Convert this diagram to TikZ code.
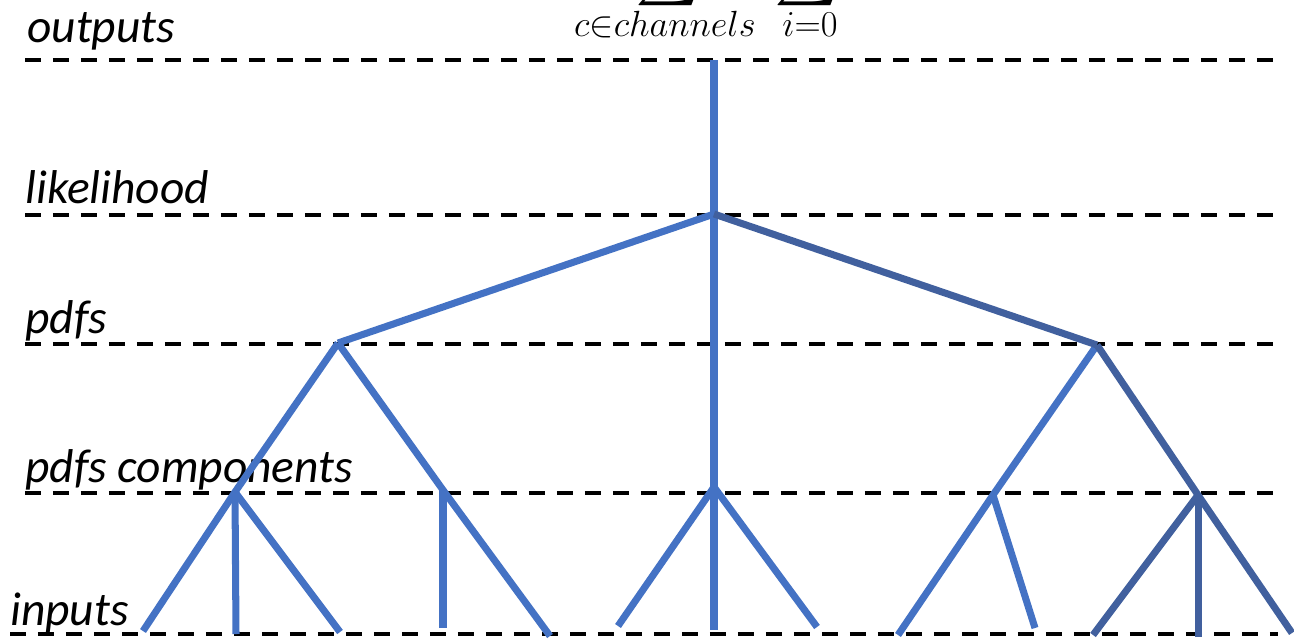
\documentclass[tikz,border=0pt]{standalone}
\usepackage{amsmath}
\usepackage{fontspec}
\setmainfont{Carlito}
\definecolor{treeblue}{RGB}{68,114,196}
\definecolor{treedark}{RGB}{65,96,158}
\tikzset{
  layerline/.style={line width=2pt, dash pattern=on 0.32cm off 0.24cm},
  branch/.style={line width=4pt, treeblue},
  darkbranch/.style={line width=4pt, treedark},
  layername/.style={anchor=base west, inner sep=0pt, font=\itshape\fontsize{27}{30}\selectfont},
  sumsign/.style={anchor=south, inner sep=0pt, font=\fontsize{23}{28}\selectfont},
  sumindex/.style={anchor=base, inner sep=0pt, font=\fontsize{29}{34}\selectfont}
}
\begin{document}
\begin{tikzpicture}[x=0.02cm, y=-0.02cm]
            \useasboundingbox (0,0) rectangle (1294,639);

            % layer names
            \node[layername] (outname) at (27,42) {outputs};
            \node[layername] (likname) at (25,203) {likelihood};
            \node[layername] (pdfname) at (25,333) {pdfs};
            \node[layername] (compname) at (25,482) {pdfs components};
            \node[layername] (inname) at (10,625) {inputs};

            % formula, cut at the top
            \node[sumsign] (sumc) at (668,10) {$\displaystyle\sum$};
            \node[sumsign] (sumi) at (807,10) {$\displaystyle\sum$};
            \node[sumindex] (subc) at (665,36) {$\scriptstyle c\in channels$};
            \node[sumindex] (subi) at (810,36) {$\scriptstyle i=0$};

            % dashed layers
            \draw[layerline] (25,60) -- (1275,60);
            \draw[layerline] (25,215) -- (1275,215);
            \draw[layerline] (25,344) -- (1275,344);
            \draw[layerline] (25,493) -- (1275,493);
            \draw[layerline] (10,634) -- (1278,634);

            % tree points
            \coordinate (top) at (714,60);
            \coordinate (lik) at (714,214);
            \coordinate (pdfA) at (338,343);
            \coordinate (pdfB) at (1097,345);
            \coordinate (compA) at (235,492);
            \coordinate (compB) at (443,490);
            \coordinate (compC) at (714,487);
            \coordinate (compD) at (993,495);
            \coordinate (compE) at (1198,495);

            \coordinate (a1) at (143,631);
            \coordinate (a2) at (236,634);
            \coordinate (a3) at (340,632);
            \coordinate (b1) at (443,628);
            \coordinate (b2) at (550,636);
            \coordinate (c1) at (618,626);
            \coordinate (c2) at (714,630);
            \coordinate (c3) at (817,627);
            \coordinate (d1) at (898,635);
            \coordinate (d2) at (1035,628);
            \coordinate (e1) at (1093,635);
            \coordinate (e2) at (1198,637);
            \coordinate (e3) at (1292,633);

            % blue branches
            \draw[branch] (top) -- (lik) -- (compC) -- (c2);
            \draw[branch] (lik) -- (pdfA);
            \draw[branch] (pdfA) -- (compA) -- (a1);
            \draw[branch] (compA) -- (a2);
            \draw[branch] (compA) -- (a3);
            \draw[branch] (pdfA) -- (compB) -- (b2);
            \draw[branch] (compB) -- (b1);
            \draw[branch] (compC) -- (c1);
            \draw[branch] (compC) -- (c3);
            \draw[branch] (pdfB) -- (compD) -- (d1);
            \draw[branch] (compD) -- (d2);

            % dark branches
            \draw[darkbranch] (lik) -- (pdfB);
            \draw[darkbranch] (pdfB) -- (compE) -- (e3);
            \draw[darkbranch] (compE) -- (e1);
            \draw[darkbranch] (compE) -- (e2);
        \end{tikzpicture}
\end{document}
